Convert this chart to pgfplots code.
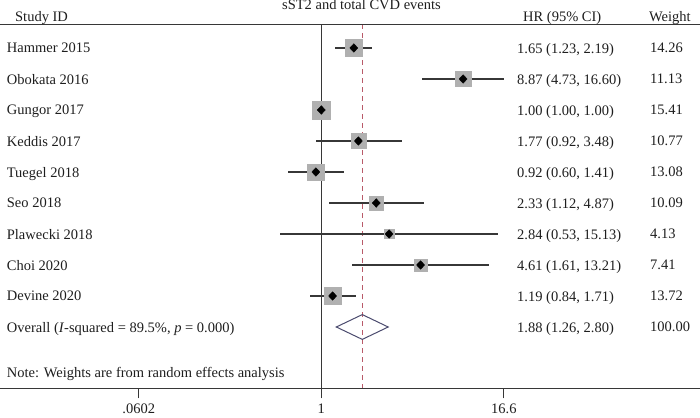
\documentclass[border=0pt]{standalone}
\usepackage{pgfplots}
\pgfplotsset{compat=1.18}
\usepackage{pgfplotstable}
\usepackage{fontspec}
\setmainfont{Liberation Serif}
\definecolor{boxgray}{RGB}{176,176,176}
\definecolor{linegray}{RGB}{55,55,55}
\definecolor{refred}{RGB}{185,90,105}
\definecolor{diacol}{RGB}{75,75,110}
\definecolor{txt}{RGB}{30,30,30}

\pgfplotstableread{
y hr lo hi w
-1 1.65 1.23 2.19 14.26
-2 8.87 4.73 16.60 11.13
-3 1.00 1.00 1.00 15.41
-4 1.77 0.92 3.48 10.77
-5 0.92 0.60 1.41 13.08
-6 2.33 1.12 4.87 10.09
-7 2.84 0.53 15.13 4.13
-8 4.61 1.61 13.21 7.41
-9 1.19 0.84 1.71 13.72
}\studies

\begin{document}
\fontsize{14.5bp}{17bp}\selectfont
\begin{tikzpicture}[
  tn/.style={anchor=west, text depth=0pt, inner sep=0pt, text=txt},
  th/.style={anchor=base west, inner sep=0pt, text=txt}]
\begin{axis}[
  width=700bp, height=364.1bp, scale only axis,
  xmode=log, log basis x=e,
  xmin=0.007118, xmax=340.0,
  ymin=-11.98, ymax=-0.235,
  axis x line=bottom, axis y line=none,
  x axis line style={-, draw=linegray, line width=1bp},
  xtick={0.0602,1,16.6}, xticklabels={.0602,1,16.6},
  minor xtick={},
  xtick style={draw=linegray, line width=1bp},
  tick align=outside, major tick length=10bp,
  xticklabel style={text=txt, anchor=north, inner sep=0pt, yshift=-5.5bp},
  clip=false,
]
% reference lines
\addplot[linegray, line width=1bp] coordinates {(1,-0.235) (1,-11.98)};
\addplot[refred, line width=0.9bp, dash pattern=on 5bp off 4bp] coordinates {(1.88,-0.235) (1.88,-11.98)};
\draw[linegray, line width=1bp] (axis cs:0.007118,-0.235) -- (axis cs:340,-0.235);
% weight boxes
\addplot[scatter, only marks, mark=square*,
  scatter/use mapped color={draw=boxgray, fill=boxgray},
  visualization depends on={2.3*sqrt(\thisrow{w}) \as \perpointmarksize},
  scatter/@pre marker code/.append style={/tikz/mark size=\perpointmarksize}]
  table[x=hr, y=y] {\studies};
% CI lines and point estimates
\addplot[only marks, mark=diamond*, mark size=4.3bp,
  mark options={fill=black, draw=black, xscale=1.25},
  error bars/.cd, x dir=both, x explicit, error mark=none,
  error bar style={draw=linegray, line width=1.3bp}]
  table[x=hr, y=y,
    x error plus expr=\thisrow{hi}-\thisrow{hr},
    x error minus expr=\thisrow{hr}-\thisrow{lo}] {\studies};
% overall diamond
\addplot[draw=diacol, line width=1bp, line join=miter] coordinates {(1.26,-10) (1.88,-9.6) (2.80,-10) (1.88,-10.4)} -- cycle;

% header
\node[anchor=base, inner sep=0pt, text=txt] at (axis cs:1.857,0.226) {sST2 and total CVD events};
\node[th] at (axis cs:0.008964,-0.145) {Study ID};
\node[th] at (axis cs:22.30,-0.145) {HR (95\% CI)};
\node[th] at (axis cs:155.1,-0.145) {Weight};
% study names
\node[tn] at (axis cs:0.007891,-1) {Hammer 2015};
\node[tn] at (axis cs:0.007891,-2) {Obokata 2016};
\node[tn] at (axis cs:0.007891,-3) {Gungor 2017};
\node[tn] at (axis cs:0.007891,-4) {Keddis 2017};
\node[tn] at (axis cs:0.007891,-5) {Tuegel 2018};
\node[tn] at (axis cs:0.007891,-6) {Seo 2018};
\node[tn] at (axis cs:0.007891,-7) {Plawecki 2018};
\node[tn] at (axis cs:0.007891,-8) {Choi 2020};
\node[tn] at (axis cs:0.007891,-9) {Devine 2020};
\node[tn] at (axis cs:0.007891,-10) {Overall (\textit{I}-squared = 89.5\%, \textit{p} = 0.000)};
\node[tn] at (axis cs:0.007891,-11.47) {Note: Weights are from random effects analysis};
% HR column
\node[tn] at (axis cs:20.33,-1) {1.65 (1.23, 2.19)};
\node[tn] at (axis cs:20.33,-2) {8.87 (4.73, 16.60)};
\node[tn] at (axis cs:20.33,-3) {1.00 (1.00, 1.00)};
\node[tn] at (axis cs:20.33,-4) {1.77 (0.92, 3.48)};
\node[tn] at (axis cs:20.33,-5) {0.92 (0.60, 1.41)};
\node[tn] at (axis cs:20.33,-6) {2.33 (1.12, 4.87)};
\node[tn] at (axis cs:20.33,-7) {2.84 (0.53, 15.13)};
\node[tn] at (axis cs:20.33,-8) {4.61 (1.61, 13.21)};
\node[tn] at (axis cs:20.33,-9) {1.19 (0.84, 1.71)};
\node[tn] at (axis cs:20.33,-10) {1.88 (1.26, 2.80)};
% weight column
\node[tn] at (axis cs:157.5,-1) {14.26};
\node[tn] at (axis cs:157.5,-2) {11.13};
\node[tn] at (axis cs:157.5,-3) {15.41};
\node[tn] at (axis cs:157.5,-4) {10.77};
\node[tn] at (axis cs:157.5,-5) {13.08};
\node[tn] at (axis cs:157.5,-6) {10.09};
\node[tn] at (axis cs:157.5,-7) {4.13};
\node[tn] at (axis cs:157.5,-8) {7.41};
\node[tn] at (axis cs:157.5,-9) {13.72};
\node[tn] at (axis cs:157.5,-10) {100.00};
% bounding box corners
\coordinate (bbsw) at (axis cs:0.007118,-12.935);
\coordinate (bbne) at (axis cs:340,0.548);
\end{axis}
\pgfresetboundingbox
\useasboundingbox (bbsw) rectangle (bbne);
\end{tikzpicture}
\end{document}
